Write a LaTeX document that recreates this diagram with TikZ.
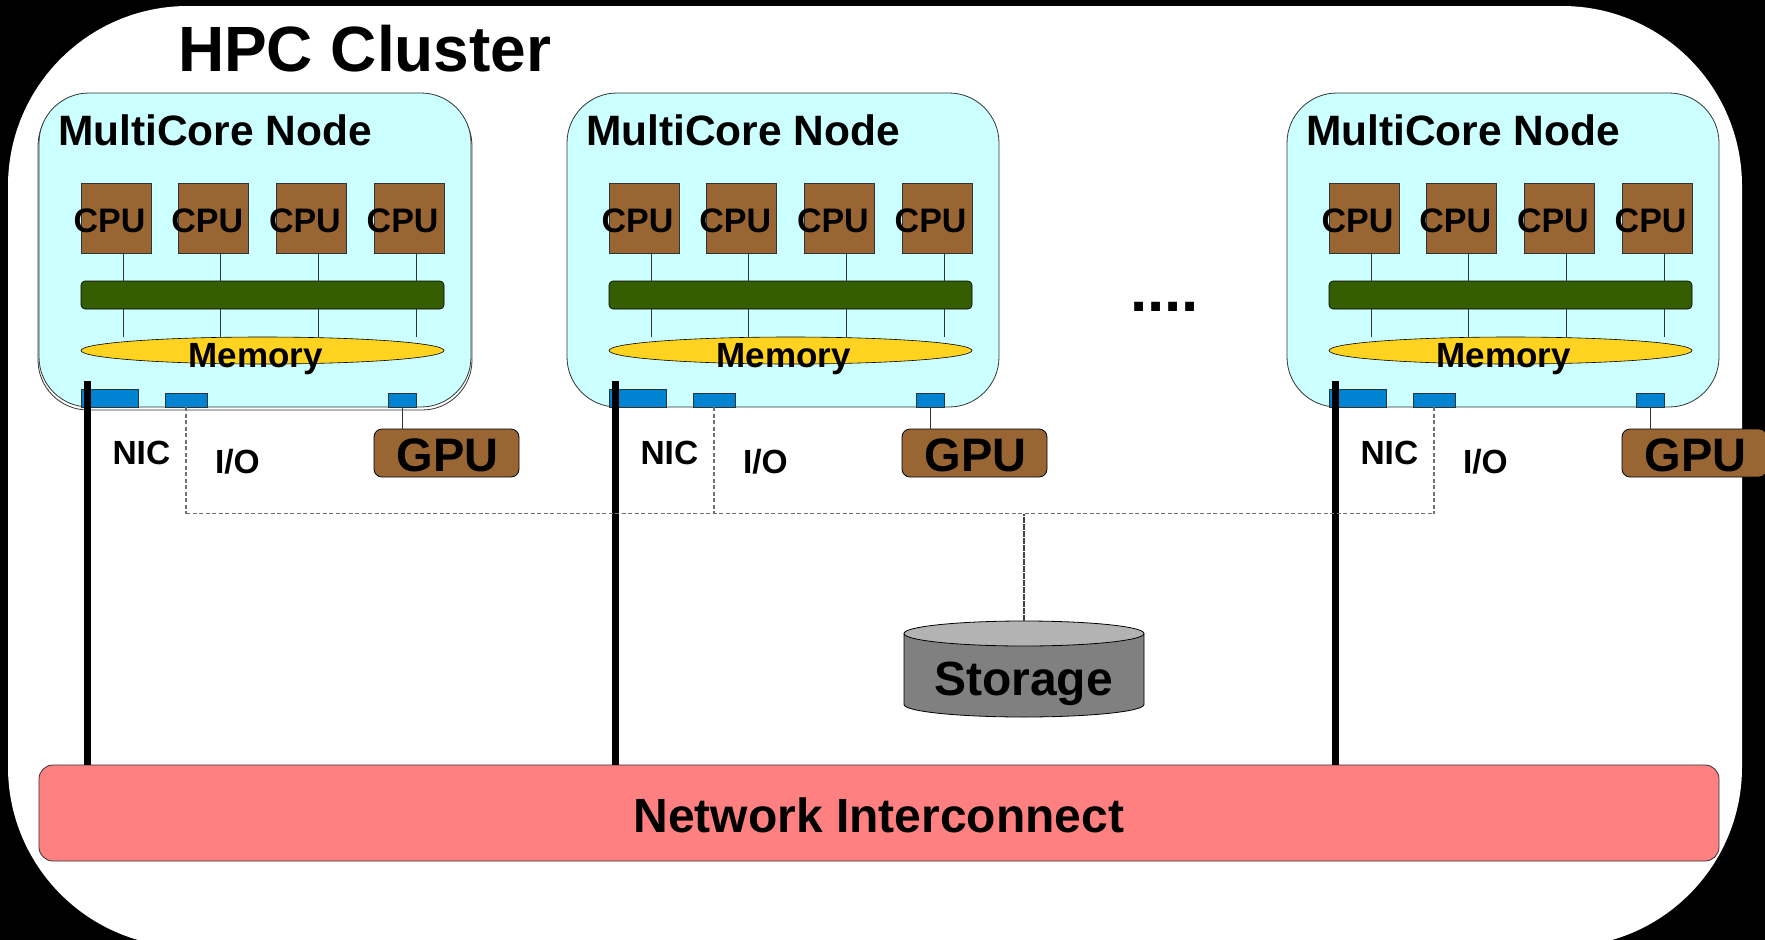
\documentclass[tikz,border=0pt]{standalone}
\usepackage{fontspec}
\setmainfont{Liberation Sans}
\usetikzlibrary{shapes.geometric}

\definecolor{nodecyan}{HTML}{CCFFFF}
\definecolor{cpubrown}{HTML}{996633}
\definecolor{busgreen}{HTML}{355E00}
\definecolor{memyellow}{HTML}{FFD320}
\definecolor{portblue}{HTML}{0084D1}
\definecolor{netred}{HTML}{FF8080}
\definecolor{diskgray}{HTML}{808080}
\definecolor{disktop}{HTML}{B3B3B3}
\definecolor{edge}{HTML}{333333}
\definecolor{iogray}{HTML}{707070}

\newcommand{\sz}[1]{\fontsize{#1pt}{#1pt}\selectfont\bfseries}

\begin{document}
\begin{tikzpicture}[x=1pt,y=-1pt,
  every node/.style={inner sep=0pt,outer sep=0pt},
  mcbox/.style={draw=edge,fill=nodecyan,rounded corners=50pt,line width=0.8pt,
    anchor=north west,minimum width=432pt,minimum height=314pt},
  cpubox/.style={draw=edge,fill=cpubrown,line width=0.8pt,anchor=north west,
    minimum width=70pt,minimum height=70pt},
  busbar/.style={draw=black,fill=busgreen,rounded corners=4pt,line width=0.6pt,
    anchor=north west,minimum width=363pt,minimum height=28pt},
  memory/.style={ellipse,draw=black,fill=memyellow,line width=0.6pt,
    minimum width=363pt,minimum height=27pt},
  port/.style={draw=edge,fill=portblue,anchor=north west,line width=0.6pt},
  gpubox/.style={draw=black,fill=cpubrown,rounded corners=8pt,line width=0.8pt,
    anchor=north west,minimum width=145pt,minimum height=48pt},
  wire/.style={draw=edge,line width=0.8pt},
  nicline/.style={draw=black,line width=6.5pt},
  ioline/.style={draw=iogray,line width=1.2pt,dash pattern=on 4pt off 2.5pt},
  diskline/.style={draw=black!75,line width=1.2pt,dash pattern=on 6pt off 1pt},
]
\useasboundingbox (0,0) rectangle (1765,940);

% frame of the cluster
\fill[black] (0,0) rectangle (1765,940);
\fill[white,rounded corners=180pt] (8,6) rectangle (1742,947);

\node[anchor=base west,font=\sz{64}] (title) at (178,71) {HPC Cluster};

% interconnect
\node[draw=edge,fill=netred,rounded corners=14pt,line width=0.8pt,anchor=north west,
  minimum width=1680pt,minimum height=96pt] (net) at (39,765) {};
\node[anchor=base,font=\sz{48}] (netlabel) at (879,832) {Network Interconnect};

\coordinate (iobus) at (0,513.5);

% shared storage
\fill[diskgray,draw=black,line width=0.8pt] (904,633.5) -- (904,704.5)
  arc[start angle=180,end angle=360,x radius=120pt,y radius=12.5pt] -- (1144,633.5);
\node[ellipse,draw=black,fill=disktop,line width=0.8pt,minimum width=240pt,
  minimum height=25pt] (disk) at (1024,633.5) {};
\node[anchor=base,font=\sz{48}] (disklabel) at (1023.5,695) {Storage};

\node[anchor=base west,font=\sz{62}] (dots) at (1130,311) {....};

% second outline behind the first node
\draw[edge,line width=0.8pt,rounded corners=50pt] (38,96) rectangle (472,410);

\foreach \n/\ox in {1/39,2/567,3/1287} {
  \node[mcbox] (mc\n) at (\ox,93) {};
  \node[anchor=base west,font=\sz{42.5}] (mclabel\n) at (\ox+19,145) {MultiCore Node};

  \node[busbar] (bus\n) at (\ox+42,281) {};
  \node[memory] (mem\n) at (\ox+223.5,350.5) {};

  \foreach \k in {0,...,3} {
    \node[cpubox] (cpu\n\k) at (\ox+42+97.7*\k,183) {};
    \node[anchor=base,font=\sz{34}] (cpulabel\n\k) at (\ox+70.5+97.7*\k,232) {CPU};
    \draw[wire] ([xshift=7pt]cpu\n\k.south) -- ([xshift=7pt]cpu\n\k.south |- bus\n.north);
    \draw[wire] ([xshift=7pt]cpu\n\k.south |- bus\n.south) -- ([xshift=7pt]cpu\n\k.south |- mem\n.north);
  }
  \node[anchor=base,font=\sz{35}] (memlabel\n) at (\ox+216.5,367) {Memory};

  % ports on the node edge
  \node[port,minimum width=57pt,minimum height=18pt] (nic\n) at (\ox+42,389) {};
  \node[port,minimum width=42pt,minimum height=14pt] (io\n) at (\ox+126,393) {};
  \node[port,minimum width=28pt,minimum height=14pt] (gp\n) at (\ox+349,393) {};

  % accelerator
  \node[gpubox] (gpu\n) at (\ox+335,429) {};
  \node[anchor=base,font=\sz{47}] (gpulabel\n) at (\ox+408.5,471) {GPU};
  \draw[wire] (gp\n.south) -- (gp\n.south |- gpu\n.north);

  \node[anchor=base west,font=\sz{33.5}] (niclabel\n) at (\ox+73.5,464) {NIC};
  \node[anchor=base west,font=\sz{33.5}] (iolabel\n) at (\ox+176,473) {I/O};

  % links
  \draw[ioline] (io\n.south) -- (io\n.south |- iobus);
  \coordinate (nictop\n) at (\ox+48.6,381);
  \draw[nicline] (nictop\n) -- (nictop\n |- net.north);
}

\draw[ioline] (io1.south |- iobus) -- (io3.south |- iobus);
\draw[diskline] (disk.north) -- (disk.north |- iobus);
\end{tikzpicture}
\end{document}
